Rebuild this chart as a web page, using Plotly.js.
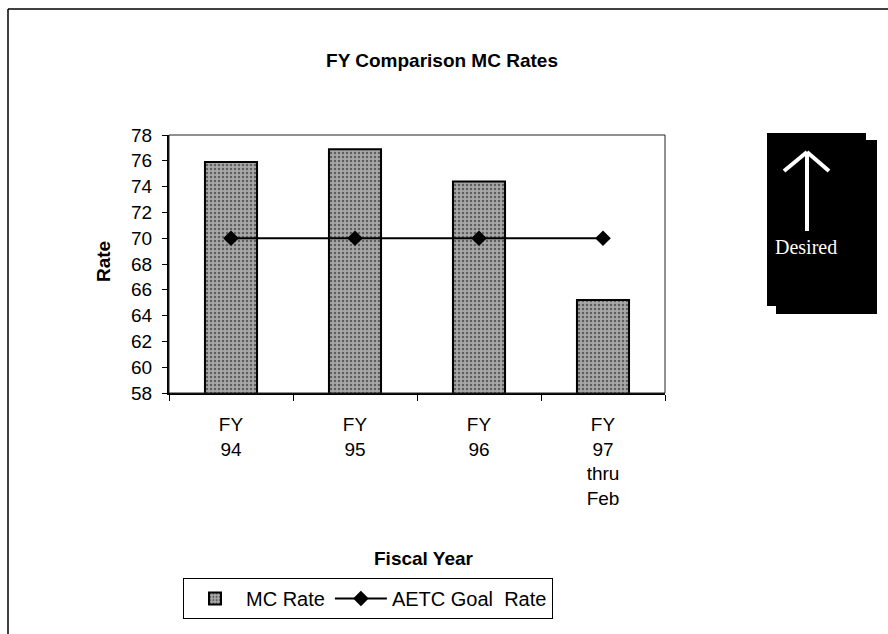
<!DOCTYPE html>
<html>
<head>
<meta charset="utf-8">
<script src="https://cdn.plot.ly/plotly-3.0.1.min.js"></script>
<style>html,body{margin:0;padding:0;background:#fff;}#chart{width:888px;height:634px;}</style>
</head>
<body>
<div id="chart"></div>
<script>
// ---- data ----
const categories = ["FY<br>94", "FY<br>95", "FY<br>96", "FY<br>97<br>thru<br>Feb"];
const mcRate = [75.9, 76.9, 74.4, 65.2];
const goalRate = [70, 70, 70, 70];
const seriesNames = ["MC Rate", "AETC Goal  Rate"];
const yTicks = [58, 60, 62, 64, 66, 68, 70, 72, 74, 76, 78];

// ---- layout helpers (pixel -> paper) ----
const L = 169, R = 665, T = 135, B = 393, W = 888, H = 634;
const px = x => (x - L) / (R - L);
const py = y => (B - y) / (B - T);
const FONT = "Arial, 'Liberation Sans', sans-serif";

const traces = [
  {
    type: "bar", x: categories, y: mcRate, name: seriesNames[0],
    marker: { color: "#9c9c9c", line: { color: "#000", width: 2 },
      pattern: { shape: ".", fgcolor: "#5e5e5e", bgcolor: "#a8a8a8", size: 4, solidity: 0.3 } },
    hoverinfo: "y"
  },
  {
    type: "scatter", mode: "lines+markers", x: categories, y: goalRate, name: seriesNames[1],
    line: { color: "#000", width: 2 },
    marker: { symbol: "diamond", size: 12, color: "#000" }
  }
];

const shapes = [
  // plot frame
  { type: "rect", xref: "paper", yref: "paper", x0: 0, x1: 1, y0: 0, y1: 1, line: { color: "#222", width: 1 } },
  // outer page frame (top and left edges)
  { type: "line", xref: "paper", yref: "paper", x0: px(8), x1: px(888), y0: py(9), y1: py(9), line: { color: "#000", width: 1.5 } },
  { type: "line", xref: "paper", yref: "paper", x0: px(8), x1: px(8), y0: py(9), y1: py(634), line: { color: "#000", width: 1.5 } },
  // "Desired" box: shadow + main
  { type: "rect", xref: "paper", yref: "paper", x0: px(776), x1: px(877), y0: py(140), y1: py(314), fillcolor: "#000", line: { width: 0 } },
  { type: "rect", xref: "paper", yref: "paper", x0: px(767), x1: px(866), y0: py(133), y1: py(306), fillcolor: "#000", line: { color: "#000", width: 0 } },
  // arrow
  { type: "line", xref: "paper", yref: "paper", x0: px(807), x1: px(807), y0: py(152), y1: py(231), line: { color: "#fff", width: 4 } },
  { type: "line", xref: "paper", yref: "paper", x0: px(807), x1: px(784), y0: py(152), y1: py(171), line: { color: "#fff", width: 4 } },
  { type: "line", xref: "paper", yref: "paper", x0: px(807), x1: px(829), y0: py(152), y1: py(171), line: { color: "#fff", width: 4 } }
];

const annotations = [
  { text: "Desired", xref: "paper", yref: "paper", x: px(806), y: py(247), xanchor: "center", yanchor: "middle",
    showarrow: false, font: { family: "'Times New Roman', 'Liberation Serif', serif", size: 20, color: "#fff" } },
  { text: "<b>Rate</b>", xref: "paper", yref: "paper", x: px(103), y: py(262), textangle: -90, xanchor: "center", yanchor: "middle",
    showarrow: false, font: { family: FONT, size: 19, color: "#000" } },
  { text: "<b>Fiscal Year</b>", xref: "paper", yref: "paper", x: px(424), y: py(558), xanchor: "center", yanchor: "middle",
    showarrow: false, font: { family: FONT, size: 19, color: "#000" } }
];

const layout = {
  width: W, height: H,
  margin: { l: L, r: W - R, t: T, b: H - B, pad: 0 },
  paper_bgcolor: "#fff", plot_bgcolor: "#fff",
  font: { family: FONT, size: 19, color: "#000" },
  title: { text: "<b>FY Comparison MC Rates</b>", x: 442 / W, xanchor: "center", y: 1 - 60 / H, yanchor: "middle",
    font: { family: FONT, size: 19, color: "#000" } },
  bargap: 0.58,
  showlegend: true,
  legend: { orientation: "h", x: px(183), y: py(578), xanchor: "left", yanchor: "top",
    bordercolor: "#000", borderwidth: 1, bgcolor: "#fff", font: { family: FONT, size: 20, color: "#000" },
    itemwidth: 52, tracegroupgap: 0 },
  xaxis: {
    type: "category", showgrid: false, zeroline: false,
    showline: true, linecolor: "#000", linewidth: 2,
    ticks: "outside", tickson: "boundaries", ticklen: 6, tickcolor: "#000", tickwidth: 1,
    tickfont: { family: FONT, size: 19, color: "#000" },
    ticklabelstandoff: 13
  },
  yaxis: {
    range: [58, 78], tickvals: yTicks, ticktext: yTicks.map(String),
    showgrid: false, zeroline: false,
    showline: true, linecolor: "#000", linewidth: 2,
    ticks: "outside", ticklen: 5, tickcolor: "#000", tickwidth: 1,
    tickfont: { family: FONT, size: 19, color: "#000" },
    ticklabelstandoff: 6
  },
  shapes: shapes,
  annotations: annotations
};

Plotly.newPlot("chart", traces, layout, { displayModeBar: false, staticPlot: true });
</script>
</body>
</html>
